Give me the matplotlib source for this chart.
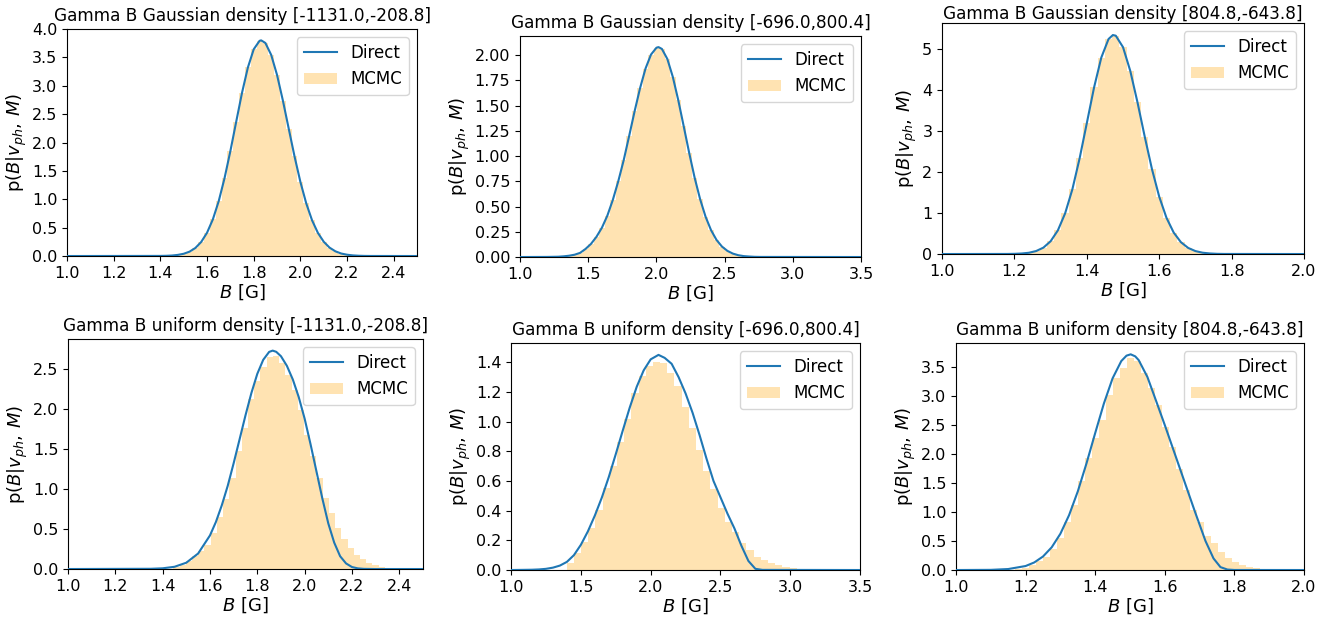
import numpy as np
import matplotlib
matplotlib.use("Agg")
import matplotlib.pyplot as plt
from matplotlib.ticker import MultipleLocator

# titles of the six panels (top row: Gaussian density, bottom row: uniform density)
titles = [
    "Gamma B Gaussian density [-1131.0,-208.8]",
    "Gamma B Gaussian density [-696.0,800.4]",
    "Gamma B Gaussian density [804.8,-643.8]",
    "Gamma B uniform density [-1131.0,-208.8]",
    "Gamma B uniform density [-696.0,800.4]",
    "Gamma B uniform density [804.8,-643.8]",
]

# B axis ranges of each panel
B_ranges = [(1.0, 2.5), (1.0, 3.5), (1.0, 2.0), (1.0, 2.5), (1.0, 3.5), (1.0, 2.0)]

# ---- top row: direct density read on a regular grid (MCMC histogram follows it)
gauss1_B = np.arange(1.400, 2.3001, 0.025)
gauss1_p = [0.002, 0.004, 0.009, 0.020, 0.040, 0.077, 0.142, 0.248, 0.411, 0.647,
            0.967, 1.373, 1.850, 2.368, 2.879, 3.322, 3.643, 3.792, 3.754, 3.543,
            3.190, 2.740, 2.245, 1.754, 1.307, 0.929, 0.630, 0.408, 0.252, 0.148,
            0.083, 0.044, 0.023, 0.011, 0.005, 0.002, 0.001]
gauss1_peak = (1.832, 3.80)

gauss2_B = np.arange(1.20, 2.7601, 0.04)
gauss2_p = [0.001, 0.002, 0.003, 0.007, 0.013, 0.023, 0.041, 0.080, 0.130, 0.200,
            0.290, 0.410, 0.565, 0.750, 0.960, 1.200, 1.445, 1.674, 1.868, 2.006,
            2.074, 2.062, 1.962, 1.785, 1.554, 1.295, 1.032, 0.786, 0.574, 0.400,
            0.267, 0.170, 0.104, 0.061, 0.034, 0.018, 0.009, 0.005, 0.002, 0.001]
gauss2_peak = (2.015, 2.08)

gauss3_B = np.arange(1.18, 1.7801, 0.02)
gauss3_p = [0.002, 0.005, 0.013, 0.031, 0.073, 0.156, 0.312, 0.577, 0.991, 1.576,
            2.330, 3.193, 4.062, 4.791, 5.243, 5.324, 5.044, 4.467, 3.698, 2.862,
            2.069, 1.399, 0.885, 0.523, 0.288, 0.149, 0.072, 0.032, 0.014, 0.005,
            0.002]
gauss3_peak = (1.472, 5.34)

# ---- bottom row: direct density curves
unif1_B = [1.00, 1.35, 1.40, 1.45, 1.50, 1.55, 1.60, 1.625, 1.65, 1.675, 1.70, 1.725,
           1.75, 1.775, 1.80, 1.825, 1.85, 1.865, 1.88, 1.90, 1.925, 1.95, 1.975,
           2.00, 2.025, 2.05, 2.075, 2.10, 2.125, 2.15, 2.175, 2.20, 2.225, 2.25,
           2.30, 2.50]
unif1_p = [0.0, 0.003, 0.009, 0.028, 0.079, 0.194, 0.420, 0.588, 0.797, 1.040, 1.322,
           1.620, 1.920, 2.200, 2.440, 2.615, 2.714, 2.730, 2.715, 2.660, 2.540,
           2.370, 2.150, 1.880, 1.560, 1.220, 0.880, 0.570, 0.330, 0.160, 0.070,
           0.025, 0.008, 0.002, 0.0, 0.0]

unif2_B = [1.0, 1.15, 1.20, 1.25, 1.30, 1.35, 1.40, 1.45, 1.50, 1.55, 1.60, 1.65,
           1.70, 1.75, 1.80, 1.85, 1.90, 1.95, 2.00, 2.056, 2.10, 2.15, 2.20, 2.25,
           2.30, 2.35, 2.40, 2.45, 2.50, 2.55, 2.60, 2.65, 2.70, 2.75, 2.80, 3.50]
unif2_p = [0.0, 0.002, 0.004, 0.008, 0.016, 0.030, 0.055, 0.10, 0.17, 0.26, 0.367,
           0.488, 0.627, 0.781, 0.940, 1.095, 1.235, 1.346, 1.420, 1.45, 1.43, 1.39,
           1.30, 1.19, 1.06, 0.91, 0.75, 0.60, 0.49, 0.38, 0.28, 0.163, 0.061,
           0.008, 0.001, 0.0]

unif3_B = [1.0, 1.10, 1.15, 1.20, 1.225, 1.25, 1.275, 1.30, 1.325, 1.35, 1.375,
           1.40, 1.425, 1.45, 1.475, 1.49, 1.502, 1.515, 1.525, 1.55, 1.57, 1.585,
           1.60, 1.629, 1.658, 1.687, 1.717, 1.74, 1.76, 1.78, 1.80, 2.0]
unif3_p = [0.0, 0.003, 0.017, 0.069, 0.131, 0.233, 0.392, 0.626, 0.947, 1.356, 1.839,
           2.362, 2.872, 3.306, 3.604, 3.697, 3.72, 3.685, 3.62, 3.33, 3.00, 2.75,
           2.50, 2.00, 1.50, 1.00, 0.50, 0.20, 0.05, 0.008, 0.001, 0.0]

# ---- bottom row: MCMC histograms (first edge, bin width, bin heights)
mcmc1_start, mcmc1_width = 1.4452, 0.0263
mcmc1_h = [0.02, 0.05, 0.10, 0.16, 0.22, 0.30, 0.45, 0.65, 0.875, 1.14, 1.47, 1.76,
           2.12, 2.35, 2.53, 2.65, 2.66, 2.58, 2.43, 2.24, 1.99, 1.68, 1.41, 1.14,
           0.89, 0.70, 0.51, 0.375, 0.26, 0.17, 0.12, 0.075, 0.05, 0.03, 0.017,
           0.008, 0.004]

mcmc2_start, mcmc2_width = 1.398, 0.0515
mcmc2_h = [0.05, 0.113, 0.187, 0.281, 0.405, 0.551, 0.70, 0.86, 1.02, 1.19, 1.31,
           1.377, 1.40, 1.395, 1.33, 1.24, 1.10, 0.956, 0.81, 0.67, 0.545, 0.416,
           0.326, 0.259, 0.18, 0.135, 0.09, 0.068, 0.045, 0.034, 0.022, 0.013,
           0.008, 0.004]

mcmc3_start, mcmc3_width = 1.1688, 0.0201
mcmc3_h = [0.015, 0.04, 0.086, 0.15, 0.23, 0.37, 0.55, 0.835, 1.12, 1.53, 1.93,
           2.27, 2.59, 3.02, 3.31, 3.48, 3.66, 3.60, 3.40, 3.14, 2.85, 2.46, 2.13,
           1.74, 1.38, 1.04, 0.835, 0.58, 0.46, 0.317, 0.20, 0.13, 0.085, 0.05,
           0.028, 0.014, 0.005]


def grid_edges(B):
    step = B[1] - B[0]
    return np.append(B - step / 2, B[-1] + step / 2)


def hist_edges(start, width, n):
    return start + width * np.arange(n + 1)


def gauss_curve(B, p, peak, rng):
    # full curve: zero at the axis ends, read points, and the read peak
    cB = np.r_[rng[0], B, peak[0], rng[1]]
    cp = np.r_[0, p, peak[1], 0]
    order = np.argsort(cB)
    return cB[order], cp[order]


panels = []
for k, (B, p, peak) in enumerate([(gauss1_B, gauss1_p, gauss1_peak),
                                   (gauss2_B, gauss2_p, gauss2_peak),
                                   (gauss3_B, gauss3_p, gauss3_peak)]):
    cB, cp = gauss_curve(B, p, peak, B_ranges[k])
    panels.append((cB, cp, B, grid_edges(B), p))
for B, p, start, width, h in [(unif1_B, unif1_p, mcmc1_start, mcmc1_width, mcmc1_h),
                              (unif2_B, unif2_p, mcmc2_start, mcmc2_width, mcmc2_h),
                              (unif3_B, unif3_p, mcmc3_start, mcmc3_width, mcmc3_h)]:
    edges = hist_edges(start, width, len(h))
    panels.append((B, p, edges[:-1], edges, h))

ylims = [4.0, 2.19, 5.63, 2.875, 1.53, 3.915]
ysteps = [0.5, 0.25, 1.0, 0.5, 0.2, 0.5]
xsteps = [0.2, 0.5, 0.2, 0.2, 0.5, 0.2]
yfmt = ["%.1f", "%.2f", "%d", "%.1f", "%.1f", "%.1f"]
title_pads = [6, 6, 3, 6, 6, 6]

# axes rectangles in figure fraction (left, bottom, width, height)
rects = [
    [0.0500, 0.5897, 0.2610, 0.3638],
    [0.3878, 0.5881, 0.2543, 0.3542],
    [0.7025, 0.5929, 0.2699, 0.3700],
    [0.0507, 0.0881, 0.2647, 0.3686],
    [0.3811, 0.0865, 0.2603, 0.3638],
    [0.7129, 0.0865, 0.2595, 0.3638],
]

fig = plt.figure(figsize=(13.41, 6.24), dpi=100)

for i, (cB, cp, hx, edges, hw) in enumerate(panels):
    ax = fig.add_axes(rects[i])
    ax.plot(cB, cp, color="tab:blue", lw=1.5, label="Direct", zorder=3)
    ax.hist(hx, bins=edges, weights=hw, color="orange", alpha=0.3, label="MCMC")
    ax.set_xlim(*B_ranges[i])
    ax.set_ylim(0, ylims[i])
    ax.xaxis.set_major_locator(MultipleLocator(xsteps[i]))
    ax.yaxis.set_major_locator(MultipleLocator(ysteps[i]))
    ax.yaxis.set_major_formatter(plt.FormatStrFormatter(yfmt[i]))
    ax.tick_params(labelsize=11.5)
    ax.set_xlabel(r"$B$ [G]", fontsize=13, labelpad=1)
    ax.set_ylabel(r"p($B|v_{ph},\,M$)", fontsize=13, labelpad=2)
    ax.set_title(titles[i], fontsize=12.2, pad=title_pads[i])
    ax.legend(loc="upper right", fontsize=12)

fig.savefig("out.png", dpi=100)
